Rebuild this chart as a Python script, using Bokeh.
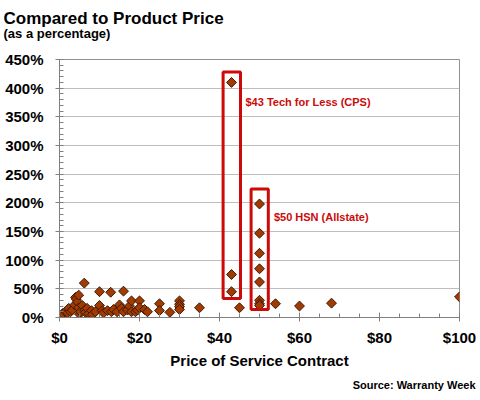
from bokeh.plotting import figure
from bokeh.models import (Range1d, FixedTicker, PrintfTickFormatter, Label, BoxAnnotation,
                          ColumnDataSource, Title)
from bokeh.embed import file_html
from bokeh.resources import INLINE
import math

# ---- data ----
price = [0.8, 1.5, 2.0, 2.3, 2.75, 3.2, 3.8, 4.0, 4.2, 4.5, 4.8, 4.8, 5.0, 5.25, 5.7, 6.2, 6.3,
         6.5, 6.9, 7.3, 8.0, 8.2, 9.0, 10.0, 10.0, 10.7, 11.0, 12.0, 12.8, 13.0, 13.5, 14.4, 15.0,
         15.5, 16.0, 16.0, 17.0, 17.5, 18.0, 18.0, 19.0, 19.5, 20.0, 20.0, 21.25, 22.0, 25.0, 25.0,
         27.6, 30.0, 30.0, 30.0, 30.0, 35.0, 43.0, 43.0, 43.0, 45.0, 50.0, 50.0, 50.0, 50.0, 50.0,
         50.0, 50.0, 50.0, 54.0, 60.0, 68.0, 100.0]
pct = [7, 10, 8, 16, 10, 13, 22, 35, 32, 27, 39, 17, 6, 10, 21, 60, 13,
       9, 16, 7, 12, 5, 10, 45, 21, 12, 8, 12, 44, 10, 14, 10, 22,
       16, 46, 10, 13, 20, 29, 10, 10, 13, 29, 17, 14, 10, 24, 12,
       9, 29, 23, 19, 14, 17, 410, 75, 45, 17, 198, 147, 112, 85, 62,
       30, 24, 21, 24, 20, 25, 36]

x_ticks = [0, 20, 40, 60, 80, 100]
y_ticks = [0, 50, 100, 150, 200, 250, 300, 350, 400, 450]

box_labels = ["$43 Tech for Less (CPS)", "$50 HSN (Allstate)"]
box_left = [40.9, 47.9]
box_right = [45.25, 52.2]
box_bottom = [33, 14]
box_top = [428, 224]
label_x = [46.5, 53.6]
label_y = [376, 175]

FONT = "Liberation Sans"
RED = "#CC0A0A"
W, H = 480, 400

p = figure(width=W, height=H, output_backend="svg", toolbar_location=None,
           x_range=Range1d(0, 100), y_range=Range1d(0, 450),
           min_border_left=59, min_border_right=21, min_border_top=59, min_border_bottom=83)
p.outline_line_color = "#909090"
p.background_fill_color = "white"
p.border_fill_color = "white"

# grid
p.xgrid.grid_line_color = None
p.ygrid.grid_line_color = "#bdbdbd"
p.ygrid.ticker = FixedTicker(ticks=y_ticks)

# axes
xa = p.xaxis[0]
xa.ticker = FixedTicker(ticks=x_ticks, minor_ticks=list(range(0, 101, 5)))
xa.formatter = PrintfTickFormatter(format="$%d")
xa.axis_label = "Price of Service Contract"
ya = p.yaxis[0]
ya.ticker = FixedTicker(ticks=y_ticks, minor_ticks=list(range(0, 451, 10)))
ya.formatter = PrintfTickFormatter(format="%d%%")
for ax in (xa, ya):
    ax.axis_line_color = "#808080"
    ax.major_tick_line_color = "#808080"
    ax.minor_tick_line_color = "#808080"
    ax.major_label_text_font = FONT
    ax.major_label_text_font_style = "bold"
    ax.major_label_text_font_size = "15px"
    ax.major_label_text_color = "black"
    ax.axis_label_text_font = FONT
    ax.axis_label_text_font_style = "bold"
    ax.axis_label_text_font_size = "15px"
    ax.axis_label_text_color = "black"
xa.major_tick_in = 5
xa.major_tick_out = 4
xa.minor_tick_in = 4
xa.minor_tick_out = 0
xa.major_label_standoff = 7
xa.axis_label_standoff = 3
ya.major_tick_in = 0
ya.major_tick_out = 4
ya.minor_tick_in = 4
ya.minor_tick_out = 0
ya.major_label_standoff = 12

# highlight boxes
for l, r, b, t in zip(box_left, box_right, box_bottom, box_top):
    p.add_layout(BoxAnnotation(left=l, right=r, bottom=b, top=t, fill_alpha=0,
                               line_color=RED, line_alpha=1.0, line_width=3))

# points
src = ColumnDataSource(dict(x=price, y=pct))
p.scatter("x", "y", source=src, marker="square", size=7, angle=math.pi / 4,
          fill_color="#A33A00", line_color="#3A1A08", line_width=1)

for txt, lx, ly in zip(box_labels, label_x, label_y):
    p.add_layout(Label(x=lx, y=ly, text=txt, text_font=FONT, text_font_style="bold",
                       text_font_size="11px", text_color=RED, text_baseline="middle"))

# titles and source; a blank title next to the frame acts as a spacer
spacer = Title(text=" ", standoff=1.6, text_font=FONT, text_font_size="13px")
sub = Title(text="(as a percentage)", align="left", offset=-56, standoff=0,
            text_font=FONT, text_font_style="bold", text_font_size="13px", text_color="black")
main = Title(text="Compared to Product Price", align="left", offset=-56, standoff=-8,
             text_font=FONT, text_font_style="bold", text_font_size="17px", text_color="black")
src_t = Title(text="Source: Warranty Week", align="right", offset=-16, standoff=11,
              text_font=FONT, text_font_style="bold", text_font_size="11px", text_color="black")
p.add_layout(spacer, "above")
p.add_layout(sub, "above")
p.add_layout(main, "above")
p.add_layout(src_t, "below")

open("out.html", "w").write(file_html(p, INLINE))
